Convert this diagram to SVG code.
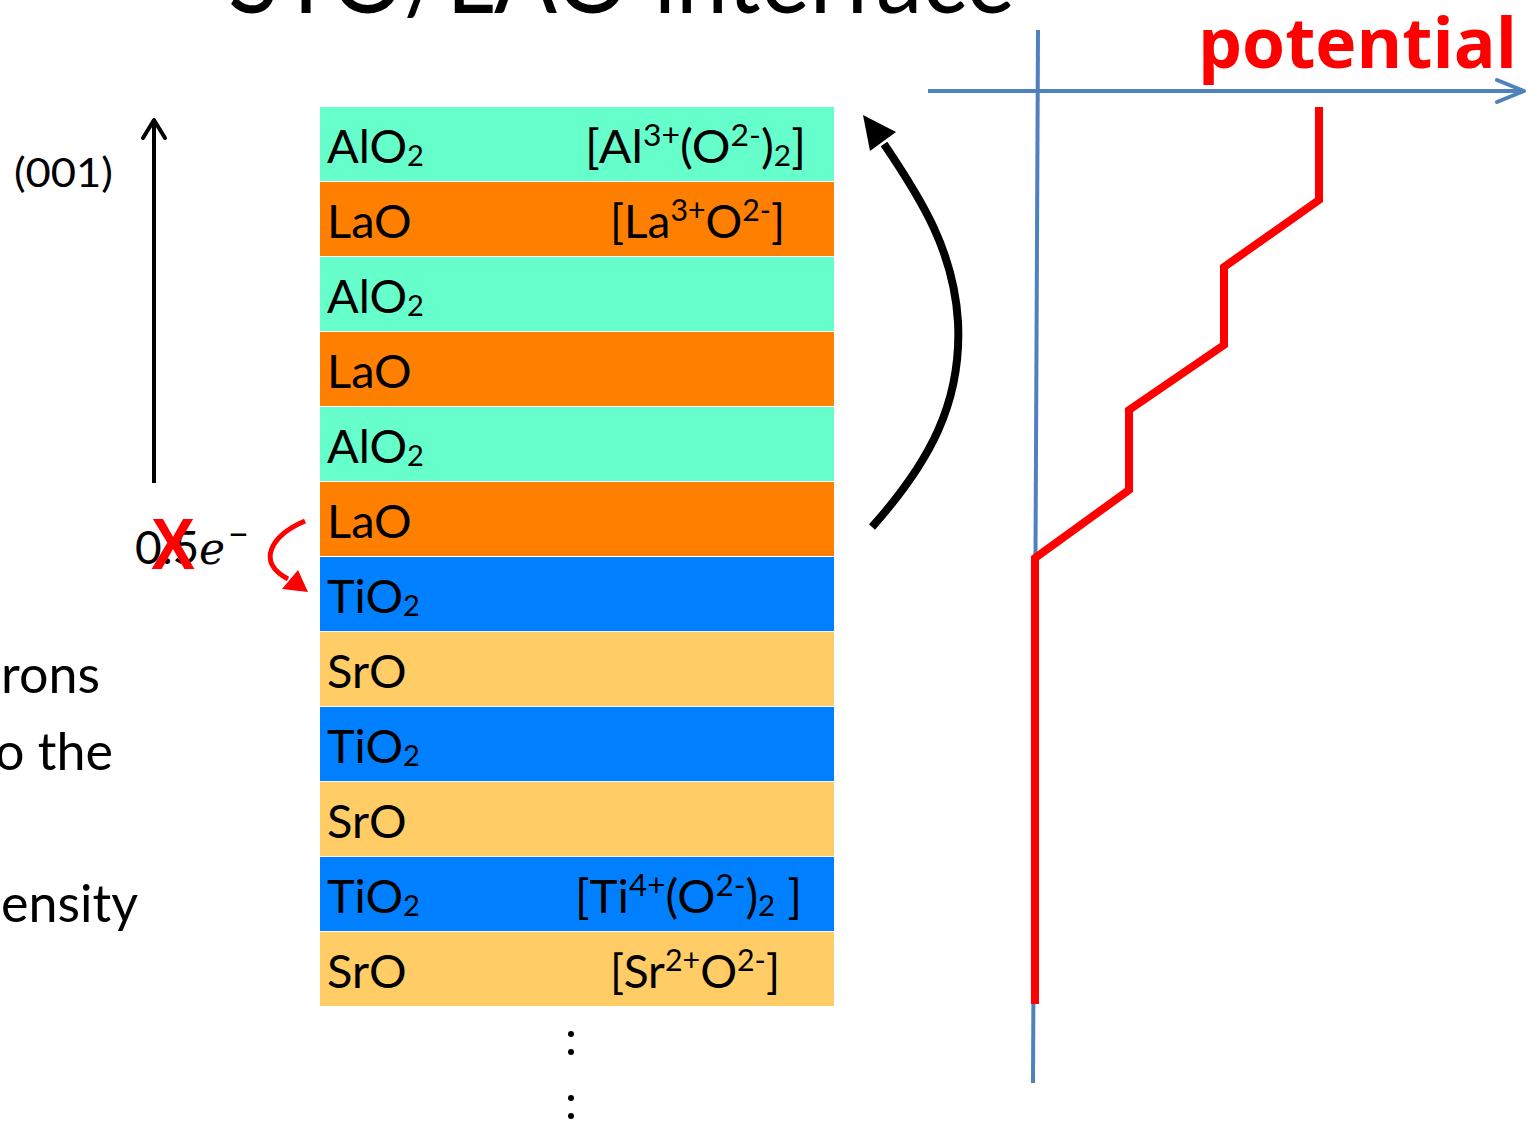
<svg xmlns="http://www.w3.org/2000/svg" width="1537" height="1122" viewBox="0 0 1537 1122">
  <style>
    .t { font-family: Lato, "Open Sans", "Liberation Sans", sans-serif; fill: #000; font-variant-ligatures: none; }
    .lbl { font-size: 47px; }
    .ion { font-size: 47px; }
    .sup { font-size: 31px; }
    .sub { font-size: 29px; }
    .alo { fill: #66FFCC; }
    .lao { fill: #FF7F00; }
    .tio { fill: #0080FF; }
    .sro { fill: #FFCC66; }
    .axis { stroke: #4F81BD; stroke-width: 4; fill: none; }
  </style>
  <rect width="1537" height="1122" fill="#fff"/>

  <!-- title (runs off the top edge) -->
  <text class="t" x="228" y="13" font-size="100" textLength="787" lengthAdjust="spacingAndGlyphs">STO/LAO interface</text>

  <!-- left margin text fragments -->
  <text class="t" x="100" y="693" font-size="52" text-anchor="end">rons</text>
  <text class="t" x="113" y="770" font-size="52" text-anchor="end">o the</text>
  <text class="t" x="138" y="922" font-size="52" text-anchor="end">ensity</text>

  <!-- growth direction -->
  <g id="direction">
    <line x1="154" y1="483" x2="154" y2="121" stroke="#000" stroke-width="4"/>
    <polyline points="143,138 154,120 165,138" fill="none" stroke="#000" stroke-width="4" stroke-linecap="round" stroke-linejoin="round"/>
    <text class="t" x="14" y="187" font-size="40" textLength="99" lengthAdjust="spacingAndGlyphs">(001)</text>
  </g>

  <!-- layer stack -->
  <g id="layers">
    <g id="layer-alo2-3"><rect class="alo" x="320" y="107" width="514" height="74"/>
      <text class="t lbl" x="327" y="163">AlO<tspan class="sub" dy="3">2</tspan></text>
      <text class="t ion" x="585" y="163" textLength="221" lengthAdjust="spacingAndGlyphs">[Al<tspan class="sup" dy="-17">3+</tspan><tspan dy="17">(O</tspan><tspan class="sup" dy="-17">2-</tspan><tspan dy="17">)</tspan><tspan class="sub" dy="3">2</tspan><tspan dy="-3">]</tspan></text>
    </g>
    <g id="layer-lao-3"><rect class="lao" x="320" y="182" width="514" height="74"/>
      <text class="t lbl" x="327" y="238">LaO</text>
      <text class="t ion" x="610" y="238" textLength="175" lengthAdjust="spacingAndGlyphs">[La<tspan class="sup" dy="-17">3+</tspan><tspan dy="17">O</tspan><tspan class="sup" dy="-17">2-</tspan><tspan dy="17">]</tspan></text>
    </g>
    <g id="layer-alo2-2"><rect class="alo" x="320" y="257" width="514" height="74"/>
      <text class="t lbl" x="327" y="313">AlO<tspan class="sub" dy="3">2</tspan></text>
    </g>
    <g id="layer-lao-2"><rect class="lao" x="320" y="332" width="514" height="74"/>
      <text class="t lbl" x="327" y="388">LaO</text>
    </g>
    <g id="layer-alo2-1"><rect class="alo" x="320" y="407" width="514" height="74"/>
      <text class="t lbl" x="327" y="463">AlO<tspan class="sub" dy="3">2</tspan></text>
    </g>
    <g id="layer-lao-1"><rect class="lao" x="320" y="482" width="514" height="74"/>
      <text class="t lbl" x="327" y="538">LaO</text>
    </g>
    <g id="layer-tio2-3"><rect class="tio" x="320" y="557" width="514" height="74"/>
      <text class="t lbl" x="327" y="613">TiO<tspan class="sub" dy="3">2</tspan></text>
    </g>
    <g id="layer-sro-3"><rect class="sro" x="320" y="632" width="514" height="74"/>
      <text class="t lbl" x="327" y="688">SrO</text>
    </g>
    <g id="layer-tio2-2"><rect class="tio" x="320" y="707" width="514" height="74"/>
      <text class="t lbl" x="327" y="763">TiO<tspan class="sub" dy="3">2</tspan></text>
    </g>
    <g id="layer-sro-2"><rect class="sro" x="320" y="782" width="514" height="74"/>
      <text class="t lbl" x="327" y="838">SrO</text>
    </g>
    <g id="layer-tio2-1"><rect class="tio" x="320" y="857" width="514" height="74"/>
      <text class="t lbl" x="327" y="913">TiO<tspan class="sub" dy="3">2</tspan></text>
      <text class="t ion" x="575" y="913" textLength="227" lengthAdjust="spacingAndGlyphs">[Ti<tspan class="sup" dy="-17">4+</tspan><tspan dy="17">(O</tspan><tspan class="sup" dy="-17">2-</tspan><tspan dy="17">)</tspan><tspan class="sub" dy="3">2</tspan><tspan dy="-3"> ]</tspan></text>
    </g>
    <g id="layer-sro-1"><rect class="sro" x="320" y="932" width="514" height="74"/>
      <text class="t lbl" x="327" y="988">SrO</text>
      <text class="t ion" x="610" y="988" textLength="170" lengthAdjust="spacingAndGlyphs">[Sr<tspan class="sup" dy="-17">2+</tspan><tspan dy="17">O</tspan><tspan class="sup" dy="-17">2-</tspan><tspan dy="17">]</tspan></text>
    </g>
  </g>

  <!-- continuation dots -->
  <g id="continuation" fill="#000">
    <circle cx="571" cy="1034" r="3"/>
    <circle cx="571" cy="1052" r="3"/>
    <circle cx="571" cy="1098" r="3"/>
    <circle cx="571" cy="1116" r="3"/>
  </g>

  <!-- crossed-out half electron transfer -->
  <g id="charge">
    <text x="135" y="564" font-size="46"><tspan class="t">0.5</tspan><tspan x="199" font-family="'DejaVu Serif', serif" font-style="italic" font-size="44">e</tspan><tspan class="t" x="228" font-size="36" dy="-17">−</tspan></text>
    <text x="151" y="569" font-family="'Liberation Sans', sans-serif" font-weight="bold" font-size="72" fill="#FF0000" textLength="44" lengthAdjust="spacingAndGlyphs">X</text>
  </g>

  <g id="connectors">
    <!-- red transfer arrow -->
    <path d="M305,521 C272,535 255,562 288,579" fill="none" stroke="#FF0000" stroke-width="5"/>
    <polygon points="308,592 282,589 298,570" fill="#FF0000"/>
    <!-- black curved arrow -->
    <path d="M872,527 C930,462 962,402 958,322 C954,252 922,200 884,144" fill="none" stroke="#000" stroke-width="8"/>
    <polygon points="863,115 870,151 896,132" fill="#000"/>
  </g>

  <!-- potential profile -->
  <g id="potential-plot">
    <line class="axis" x1="1038" y1="30" x2="1033" y2="1083"/>
    <line class="axis" x1="928" y1="91" x2="1524" y2="91"/>
    <polyline class="axis" points="1497,80 1524,91 1497,102" stroke-linecap="round" stroke-linejoin="round"/>
    <polyline points="1319,107 1319,200 1224,267 1224,345 1129,410 1129,490 1035,558 1035,1004" fill="none" stroke="#FF0000" stroke-width="8"/>
    <text x="1198" y="68" font-family="'Open Sans', Lato, sans-serif" font-weight="bold" font-size="70" fill="#FF0000" style="font-variant-ligatures:none;font-feature-settings:'liga' 0,'clig' 0,'dlig' 0" textLength="319" lengthAdjust="spacingAndGlyphs">potential</text>
  </g>
</svg>
